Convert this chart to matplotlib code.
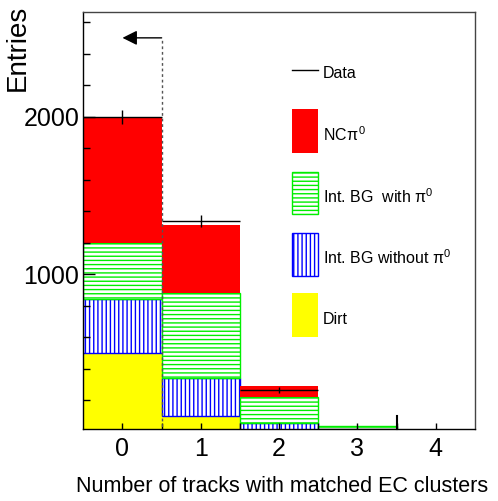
import matplotlib
matplotlib.use("Agg")
import matplotlib.pyplot as plt
from matplotlib.patches import Rectangle
from matplotlib.lines import Line2D
import numpy as np

plt.rcParams['font.family'] = ['Liberation Sans', 'DejaVu Sans']
plt.rcParams['mathtext.fontset'] = 'custom'
plt.rcParams['mathtext.rm'] = 'Liberation Sans'
plt.rcParams['mathtext.it'] = 'Liberation Sans'
plt.rcParams['hatch.linewidth'] = 1.0

# ---- data ----
bins = [0, 1, 2, 3, 4]
dirt = [499, 103, 15, 5, 0]
int_bg_without_pi0 = [343, 238, 44, 5, 0]
int_bg_with_pi0 = [359, 539, 165, 28, 0]
nc_pi0 = [799, 433, 68, 0, 0]
data = [2000, 1338, 266, 20, 0]
cut_value = 0.5
arrow_end = 0.0
arrow_height = 2500

W, H = 498, 501
fig = plt.figure(figsize=(W / 100, H / 100), dpi=100)
L, R, T, B = 83.3, 475, 12, 429
ax = fig.add_axes([L / W, 1 - B / H, (R - L) / W, (B - T) / H])

x = np.array(bins, dtype=float)
d = np.array(dirt, float)
b = np.array(int_bg_without_pi0, float)
g = np.array(int_bg_with_pi0, float)
n = np.array(nc_pi0, float)

ax.bar(x, d, width=1.0, color='#ffff00', edgecolor='none', linewidth=0)
ax.bar(x, b, width=1.0, bottom=d, facecolor='white', edgecolor='#0000ff',
       hatch='||||', linewidth=1.0)
ax.bar(x, g, width=1.0, bottom=d + b, facecolor='white', edgecolor='#00ee00',
       hatch='----', linewidth=1.0)
ax.bar(x, n, width=1.0, bottom=d + b + g, color='#ff0000', edgecolor='none', linewidth=0)

# data points
dv = np.array(data, float)
m = dv > 0
ax.hlines(dv[m], x[m] - 0.5, x[m] + 0.5, color='black', lw=1.0, zorder=5)
ax.vlines(x[m], dv[m] - np.sqrt(dv[m]), dv[m] + np.sqrt(dv[m]), color='black', lw=1.0, zorder=5)

# cut line + arrow
ax.plot([cut_value, cut_value], [0, arrow_height], color='#555555', lw=1.0,
        linestyle=(0, (2, 2)), zorder=6)
ax.annotate('', xy=(arrow_end, arrow_height), xytext=(cut_value, arrow_height),
            arrowprops=dict(arrowstyle='-|>', color='black', lw=1.0,
                            mutation_scale=22, shrinkA=0, shrinkB=0), zorder=7)

ax.set_xlim(-0.5, 4.5)
ax.set_ylim(19, 2664)
ax.set_xticks(bins)
ax.set_xticklabels([str(v) for v in bins])
ax.set_xticks([0.5, 1.5, 2.5, 3.5], minor=True)
ax.set_yticks([1000, 2000])
ax.set_yticks(np.arange(200, 2700, 200), minor=True)
ax.tick_params(axis='both', which='both', direction='in', labelsize=18)
ax.tick_params(axis='y', which='major', length=8.6, width=1, pad=3)
ax.tick_params(axis='y', which='minor', length=5, width=1)
ax.tick_params(axis='x', which='both', length=4.3, width=1, pad=6)
ax.plot([3.5, 3.5], [0, 0.03], color='black', lw=1.5,
        transform=ax.get_xaxis_transform(), clip_on=False)

for s in ['left', 'bottom']:
    ax.spines[s].set_color('black')
    ax.spines[s].set_linewidth(1.0)
for s in ['top', 'right']:
    ax.spines[s].set_color('#444444')
    ax.spines[s].set_linewidth(1.0)

def fx(px):
    return px / W

def fy(py):
    return 1 - py / H

fig.text(fx(282), fy(487), 'Number of tracks with matched EC clusters',
         ha='center', va='center', fontsize=15.5)
fig.text(fx(18), fy(5), 'Entries', rotation=90, ha='center', va='top', fontsize=20)

# legend (manual)
bx0, bx1 = 292, 318
tx = 323
fig.add_artist(Line2D([fx(bx0), fx(bx1)], [fy(70), fy(70)], color='black', lw=1.0))
fig.text(fx(tx), fy(73), 'Data', ha='left', va='center', fontsize=11.5)

entries = [
    (109, 153, dict(facecolor='#ff0000', edgecolor='none'), 'NCπ$^{\\,0}$', 135),
    (172, 214, dict(facecolor='white', edgecolor='#00ee00', hatch='----'), 'Int. BG  with π$^0$', 197),
    (233, 276, dict(facecolor='white', edgecolor='#0000ff', hatch='||||'), 'Int. BG without π$^0$', 258),
    (293, 337, dict(facecolor='#ffff00', edgecolor='none'), 'Dirt', 320),
]
for top, bot, style, label, ty in entries:
    r = Rectangle((fx(bx0), fy(bot)), fx(bx1) - fx(bx0), fy(top) - fy(bot),
                  transform=fig.transFigure, lw=1.0, **style)
    fig.add_artist(r)
    fig.text(fx(tx), fy(ty), label, ha='left', va='center', fontsize=11.5)

fig.savefig('out.png', dpi=100)
